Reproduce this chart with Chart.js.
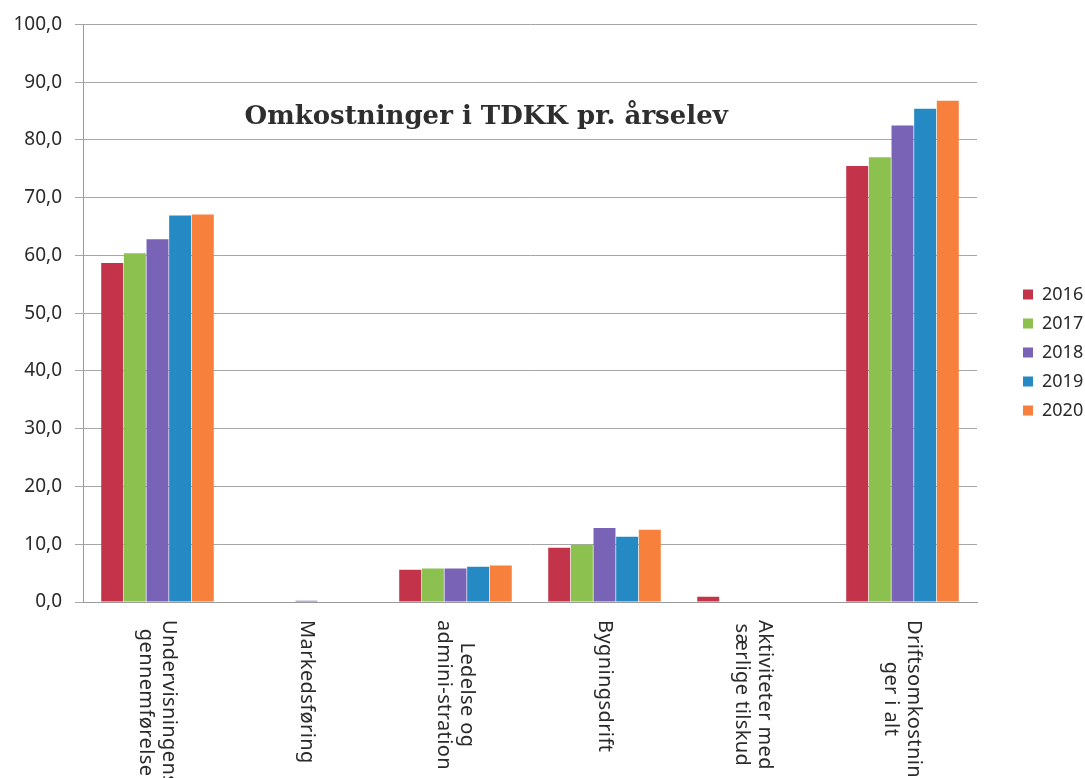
<!DOCTYPE html>
<html>
<head>
<meta charset="utf-8">
<script src="https://cdn.jsdelivr.net/npm/chart.js@4/dist/chart.umd.min.js"></script>
<style>
  html, body { margin: 0; padding: 0; background: #ffffff; }
  #wrap { width: 1085px; height: 778px; position: relative; }
</style>
</head>
<body>
<div id="wrap"><canvas id="c"></canvas></div>
<script>
const categories = [
  ["Undervisningens", "gennemførelse"],
  ["Markedsføring"],
  ["Ledelse og", "admini-stration"],
  ["Bygningsdrift"],
  ["Aktiviteter med", "særlige tilskud"],
  ["Driftsomkostnin", "ger i alt"]
];
const years = ["2016", "2017", "2018", "2019", "2020"];
const values2016 = [58.7, 0, 5.6, 9.4, 0.9, 75.5];
const values2017 = [60.4, 0, 5.8, 9.9, 0, 77.0];
const values2018 = [62.8, 0.2, 5.8, 12.8, 0, 82.5];
const values2019 = [66.9, 0, 6.1, 11.3, 0, 85.4];
const values2020 = [67.1, 0, 6.3, 12.5, 0, 86.8];
const yTicks = { min: 0, max: 100, step: 10 };
const chartTitle = "Omkostninger i TDKK pr. årselev";

const seriesValues = [values2016, values2017, values2018, values2019, values2020];
const seriesColors = ["#C3344A", "#8CC150", "#7963B6", "#258AC4", "#F8803D"];

const FONT = "'Noto Sans', 'Open Sans', sans-serif";

const rotatedLabels = {
  id: 'rotatedLabels',
  afterDraw(chart) {
    const ctx = chart.ctx;
    const xs = chart.scales.x;
    const top = chart.chartArea.bottom + 18;
    const lh = 23;
    ctx.save();
    ctx.font = "20px " + FONT;
    try { ctx.letterSpacing = "0.4px"; } catch (e) {}
    ctx.fillStyle = "#2a2a2a";
    ctx.textAlign = "center";
    ctx.textBaseline = "middle";
    chart.data.labels.forEach((lab, i) => {
      const lines = Array.isArray(lab) ? lab : [lab];
      const w = Math.max(...lines.map(l => ctx.measureText(l).width));
      const x = xs.getPixelForTick(i);
      ctx.save();
      ctx.translate(x, top);
      ctx.rotate(Math.PI / 2);
      lines.forEach((l, j) => {
        ctx.fillText(l, w / 2, (j - (lines.length - 1) / 2) * lh);
      });
      ctx.restore();
    });
    ctx.restore();
  }
};

const innerTitle = {
  id: 'innerTitle',
  afterDatasetsDraw(chart) {
    const ctx = chart.ctx;
    const a = chart.chartArea;
    ctx.save();
    ctx.font = "bold 26px 'DejaVu Serif', 'Liberation Serif', serif";
    ctx.fillStyle = "#2e2e2e";
    ctx.textAlign = "center";
    ctx.textBaseline = "middle";
    ctx.fillText(chartTitle, a.left + (a.right - a.left) * 0.451, a.top + 93);
    ctx.restore();
  }
};

new Chart(document.getElementById('c'), {
  type: 'bar',
  data: {
    labels: categories,
    datasets: years.map((y, i) => ({
      label: y,
      data: seriesValues[i],
      backgroundColor: seriesColors[i],
      borderWidth: 0,
      categoryPercentage: 0.76,
      barPercentage: 0.97
    }))
  },
  options: {
    responsive: true,
    maintainAspectRatio: false,
    animation: false,
    layout: { padding: { top: 22, left: 0, right: 0, bottom: 0 } },
    plugins: {
      tooltip: { enabled: false },
      title: { display: false },
      legend: {
        display: true,
        position: 'right',
        align: 'start',
        fullSize: false,
        maxWidth: 73,
        title: { display: true, text: '', font: { size: 10 }, padding: { top: 0, bottom: 238 } },
        labels: {
          boxWidth: 10,
          boxHeight: 10,
          padding: 11,
          color: '#2a2a2a',
          font: { family: FONT, size: 18 }
        }
      }
    },
    scales: {
      x: {
        grid: { display: false },
        border: { display: true, color: '#9a9a9a', width: 1 },
        ticks: { display: false },
        afterFit(s) { s.height = 176; }
      },
      y: {
        min: yTicks.min,
        max: yTicks.max,
        grid: { color: '#a6a6a6', lineWidth: 1, tickLength: 8, drawTicks: true },
        border: { display: true, color: '#9a9a9a', width: 1 },
        ticks: {
          stepSize: yTicks.step,
          padding: 13,
          color: '#2a2a2a',
          font: { family: FONT, size: 19 },
          callback: v => Number(v).toFixed(1).replace('.', ',')
        },
        afterFit(s) { s.width = 83; }
      },
      spacer: {
        type: 'linear',
        position: 'right',
        display: true,
        grid: { display: false, drawOnChartArea: false },
        border: { display: false },
        ticks: { display: false },
        afterFit(s) { s.width = 35; }
      }
    }
  },
  plugins: [rotatedLabels, innerTitle]
});
</script>
</body>
</html>
